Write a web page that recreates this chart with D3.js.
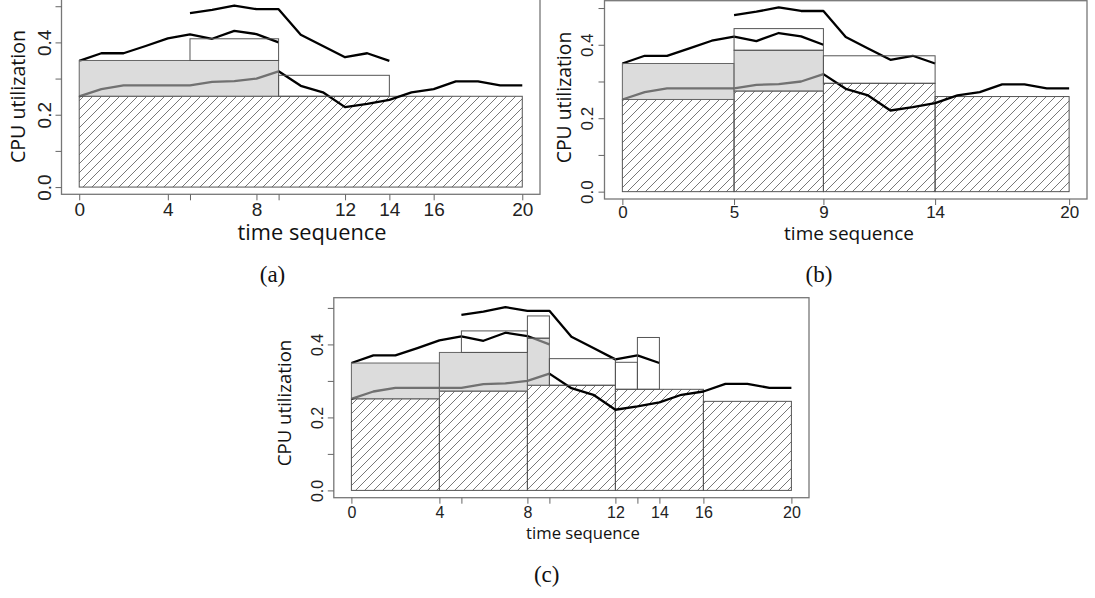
<!DOCTYPE html>
<html>
<head>
<meta charset="utf-8">
<script src="https://cdn.jsdelivr.net/npm/d3@7"></script>
<style>
body { margin: 0; background: white; }
.tick text { font-family: "Liberation Sans", Arial, sans-serif; fill: #222; }
.tick line { stroke: #666; }
.title { font-family: "Open Sans", sans-serif; fill: #111; }
.caption { font-family: "Liberation Serif", serif; fill: #111; }
</style>
</head>
<body>
<script>

// utilization traces of the three jobs (same in every panel)
const upperT = [5, 6, 7, 8, 9, 10, 11, 12, 13, 14];
const upperU = [0.481, 0.49, 0.502, 0.492, 0.492, 0.421, 0.39, 0.359, 0.37, 0.349];
const midT = [0, 1, 2, 3, 4, 5, 6, 7, 8, 9];
const midU = [0.349, 0.37, 0.37, 0.39, 0.411, 0.422, 0.41, 0.432, 0.423, 0.40];
const lowT = [0, 1, 2, 3, 4, 5, 6, 7, 8, 9, 10, 11, 12, 13, 14, 15, 16, 17, 18, 19, 20];
const lowU = [0.251, 0.271, 0.281, 0.281, 0.281, 0.281, 0.291, 0.293, 0.30, 0.32, 0.28,
              0.262, 0.221, 0.23, 0.241, 0.262, 0.271, 0.292, 0.292, 0.281, 0.281];

const yTicks = [0, 0.1, 0.2, 0.3, 0.4, 0.5];
const yLabels = [0, 0.2, 0.4];

// panel (a): [start, end, top] for hatched, [start, end, bottom, top] for the others
const ticksA = [0, 4, 5, 8, 9, 12, 14, 16, 20];
const labelsA = [0, 4, 8, 12, 14, 16, 20];
const hatchA = [[0, 20, 0.251]];
const grayA = [[0, 9, 0.251, 0.35]];
const openA = [[5, 9, 0.35, 0.41], [9, 14, 0.251, 0.309]];

// panel (b)
const ticksB = [0, 5, 9, 14, 20];
const labelsB = [0, 5, 9, 14, 20];
const hatchB = [[0, 5, 0.251], [5, 9, 0.274], [9, 14, 0.295], [14, 20, 0.259]];
const grayB = [[0, 5, 0.251, 0.349], [5, 9, 0.274, 0.385]];
const openB = [[5, 9, 0.385, 0.444], [9, 14, 0.295, 0.37]];

// panel (c)
const ticksC = [0, 4, 5, 8, 9, 12, 13, 14, 16, 20];
const labelsC = [0, 4, 8, 12, 14, 16, 20];
const hatchC = [[0, 4, 0.251], [4, 8, 0.272], [8, 12, 0.288], [12, 16, 0.277], [16, 20, 0.244]];
const grayC = [[0, 4, 0.251, 0.349], [4, 8, 0.272, 0.378], [8, 9, 0.288, 0.417]];
const openC = [[5, 8, 0.378, 0.437], [8, 9, 0.417, 0.478], [9, 12, 0.288, 0.361],
               [12, 13, 0.277, 0.351], [13, 14, 0.277, 0.419]];

const svg = d3.select("body").append("svg")
  .attr("width", 1095)
  .attr("height", 598);

const defs = svg.append("defs");
defs.append("pattern")
  .attr("id", "hatch")
  .attr("patternUnits", "userSpaceOnUse")
  .attr("width", 9).attr("height", 9)
  .append("path")
  .attr("d", "M-1,1 l2,-2 M0,9 l9,-9 M8,10 l2,-2")
  .attr("stroke", "#555")
  .attr("stroke-width", 0.8);

// fit a text element to a measured width
function fitWidth(text, target) {
  const len = text.node().getComputedTextLength();
  const fs = parseFloat(text.attr("font-size"));
  text.attr("font-size", fs * target / len);
}

function drawPanel(p) {
  const x = d3.scaleLinear().domain([-0.8, 20.8]).range([p.box.l, p.box.r]);
  const y = d3.scaleLinear().domain(p.yDomain).range([p.box.b, p.box.t]);
  const g = svg.append("g");

  g.selectAll(".hatch").data(p.hatch).enter()
    .append("rect")
    .attr("x", d => x(d[0]))
    .attr("y", d => y(d[2]))
    .attr("width", d => x(d[1]) - x(d[0]))
    .attr("height", d => y(0) - y(d[2]))
    .attr("fill", "url(#hatch)")
    .attr("stroke", "#555")
    .attr("stroke-width", 1);

  const line = d3.line().x(d => x(d[0])).y(d => y(d[1]));
  [[upperT, upperU], [midT, midU], [lowT, lowU]].forEach(([t, u]) => {
    g.append("path")
      .datum(t.map((v, i) => [v, u[i]]))
      .attr("d", line)
      .attr("fill", "none")
      .attr("stroke", "#000")
      .attr("stroke-width", 2.3)
      .attr("stroke-linejoin", "round");
  });

  g.selectAll(".gray").data(p.gray).enter()
    .append("rect")
    .attr("x", d => x(d[0]))
    .attr("y", d => y(d[3]))
    .attr("width", d => x(d[1]) - x(d[0]))
    .attr("height", d => y(d[2]) - y(d[3]))
    .attr("fill", "rgba(194,194,194,0.58)")
    .attr("stroke", "#666")
    .attr("stroke-width", 1);

  g.selectAll(".open").data(p.open).enter()
    .append("rect")
    .attr("x", d => x(d[0]))
    .attr("y", d => y(d[3]))
    .attr("width", d => x(d[1]) - x(d[0]))
    .attr("height", d => y(d[2]) - y(d[3]))
    .attr("fill", "none")
    .attr("stroke", "#555")
    .attr("stroke-width", 1);

  // frame
  g.append("rect")
    .attr("x", p.box.l).attr("y", p.box.t)
    .attr("width", p.box.r - p.box.l).attr("height", p.box.b - p.box.t)
    .attr("fill", "none")
    .attr("stroke", "#777")
    .attr("stroke-width", 1.3);

  const xAxis = d3.axisBottom(x)
    .tickValues(p.ticks)
    .tickFormat(d => p.labels.includes(d) ? d : "")
    .tickSize(6);
  const gx = g.append("g")
    .attr("transform", `translate(0, ${p.box.b})`)
    .call(xAxis);
  gx.select(".domain").remove();
  gx.selectAll("text")
    .attr("font-size", p.tickFs)
    .attr("y", p.xLabOff)
    .attr("dy", 0);

  const yAxis = d3.axisLeft(y)
    .tickValues(yTicks)
    .tickFormat(d => yLabels.includes(d) ? d3.format(".1f")(d) : "")
    .tickSize(6);
  const gy = g.append("g")
    .attr("transform", `translate(${p.box.l}, 0)`)
    .call(yAxis);
  gy.select(".domain").remove();
  gy.selectAll("text")
    .attr("font-size", p.tickFs)
    .attr("transform", "rotate(-90)")
    .attr("x", 0)
    .attr("y", -p.yLabOff)
    .attr("dy", 0)
    .attr("text-anchor", "middle");

  const xt = g.append("text")
    .attr("class", "title")
    .attr("x", p.xTitle[0]).attr("y", p.xTitle[1])
    .attr("text-anchor", "middle")
    .attr("font-size", 20)
    .text("time sequence");
  fitWidth(xt, p.xTitle[2]);

  const yt = g.append("text")
    .attr("class", "title")
    .attr("transform", `translate(${p.yTitle[0]}, ${p.yTitle[1]}) rotate(-90)`)
    .attr("text-anchor", "middle")
    .attr("font-size", 20)
    .text("CPU utilization");
  fitWidth(yt, p.yTitle[2]);

  g.append("text")
    .attr("class", "caption")
    .attr("x", p.caption[0]).attr("y", p.caption[1])
    .attr("text-anchor", "middle")
    .attr("font-size", 23)
    .text(p.captionText);
}

drawPanel({
  box: {l: 61.5, r: 540, t: -1, b: 194.3}, yDomain: [-0.02, 0.52],
  ticks: ticksA, labels: labelsA, hatch: hatchA, gray: grayA, open: openA,
  tickFs: 19, xLabOff: 21.7, yLabOff: 11,
  xTitle: [312, 239.5, 149], yTitle: [25, 96.5, 133],
  caption: [272.5, 282], captionText: "(a)"
});

drawPanel({
  box: {l: 604.5, r: 1087, t: 0.7, b: 199}, yDomain: [-0.02, 0.52],
  ticks: ticksB, labels: labelsB, hatch: hatchB, gray: grayB, open: openB,
  tickFs: 17, xLabOff: 18.5, yLabOff: 12,
  xTitle: [849, 240, 130], yTitle: [571, 97.5, 131.7],
  caption: [819, 282], captionText: "(b)"
});

drawPanel({
  box: {l: 333.8, r: 809, t: 297.7, b: 497.7}, yDomain: [-0.02, 0.528],
  ticks: ticksC, labels: labelsC, hatch: hatchC, gray: grayC, open: openC,
  tickFs: 16, xLabOff: 20, yLabOff: 11.2,
  xTitle: [583, 538.5, 114], yTitle: [291, 403, 126.7],
  caption: [546.7, 582], captionText: "(c)"
});

</script>
</body>
</html>
